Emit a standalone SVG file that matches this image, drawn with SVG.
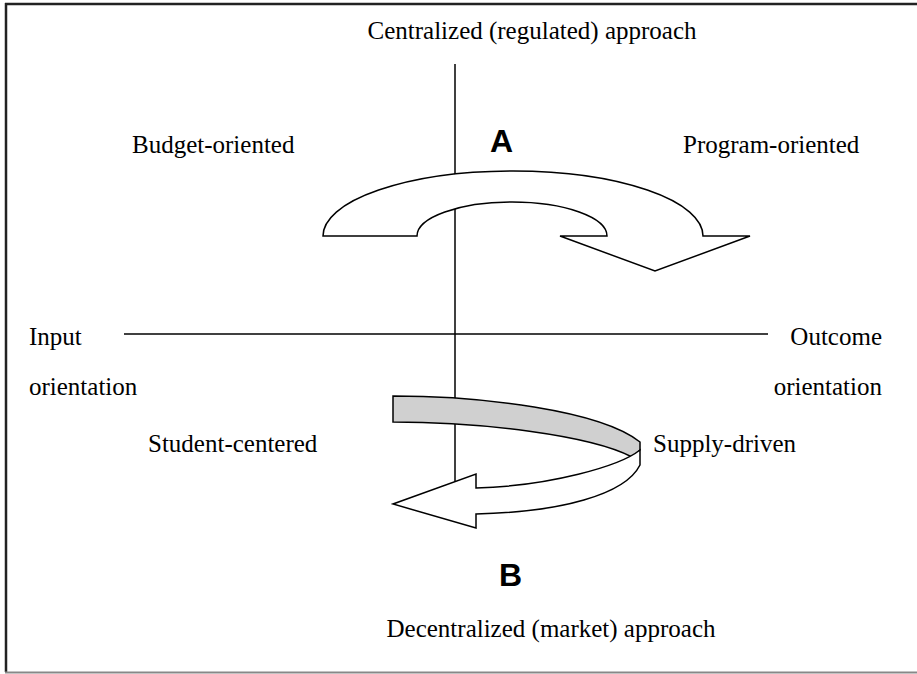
<svg xmlns="http://www.w3.org/2000/svg" width="917" height="674" viewBox="0 0 917 674">
<style>
.t{font-family:"Liberation Serif","Times New Roman",serif;font-size:25px;fill:#000}
.L{font-family:"Liberation Sans",Arial,sans-serif;font-size:32px;font-weight:bold;fill:#000}
.ax{stroke:#000;stroke-width:1.5;fill:none}
.ar{stroke:#000;stroke-width:1.5;stroke-linejoin:miter}
</style>
<rect width="917" height="674" fill="#fff"/>
<g id="frame">
<line x1="5" y1="4" x2="917" y2="4" stroke="#222" stroke-width="2.5"/>
<line x1="6" y1="3" x2="6" y2="672" stroke="#222" stroke-width="2.5"/>
<line x1="5" y1="672.5" x2="917" y2="672.5" stroke="#888" stroke-width="2"/>
</g>
<g id="connectors">
<line class="ax" x1="455" y1="64" x2="455" y2="492"/>
<line class="ax" x1="124" y1="334" x2="768" y2="334"/>
</g>
<g id="arrowA">
<path class="ar" fill="#fff" d="M323,236 A190,65 0 0 1 703,236 L750,236 L655,271 L560,236 L607,236 A95,34 0 0 0 417,236 Z"/>
<text class="L" x="490" y="152">A</text>
</g>
<g id="arrowB">
<path class="ar" fill="#d0d0d0" d="M393,396 C480,396 600,410 640,442 L640,450 L632,457 C590,435 480,422 393,422 Z"/>
<path class="ar" fill="#fff" d="M640,450 C620,466 550,486 476,488 L476,474 L393,504 L476,528 L476,514 C560,512 625,495 640,465 Z"/>
<text class="L" x="499" y="586">B</text>
</g>
<g id="top"><text class="t" x="532" y="39" text-anchor="middle">Centralized (regulated) approach</text></g>
<g id="bottom"><text class="t" x="551" y="637" text-anchor="middle">Decentralized (market) approach</text></g>
<g id="budget"><text class="t" x="132" y="153">Budget-oriented</text></g>
<g id="program"><text class="t" x="683" y="153">Program-oriented</text></g>
<g id="input"><text class="t" x="29" y="345">Input</text><text class="t" x="29" y="395">orientation</text></g>
<g id="outcome"><text class="t" x="882" y="345" text-anchor="end">Outcome</text><text class="t" x="882" y="395" text-anchor="end">orientation</text></g>
<g id="student"><text class="t" x="148" y="452">Student-centered</text></g>
<g id="supply"><text class="t" x="653" y="452">Supply-driven</text></g>
</svg>
